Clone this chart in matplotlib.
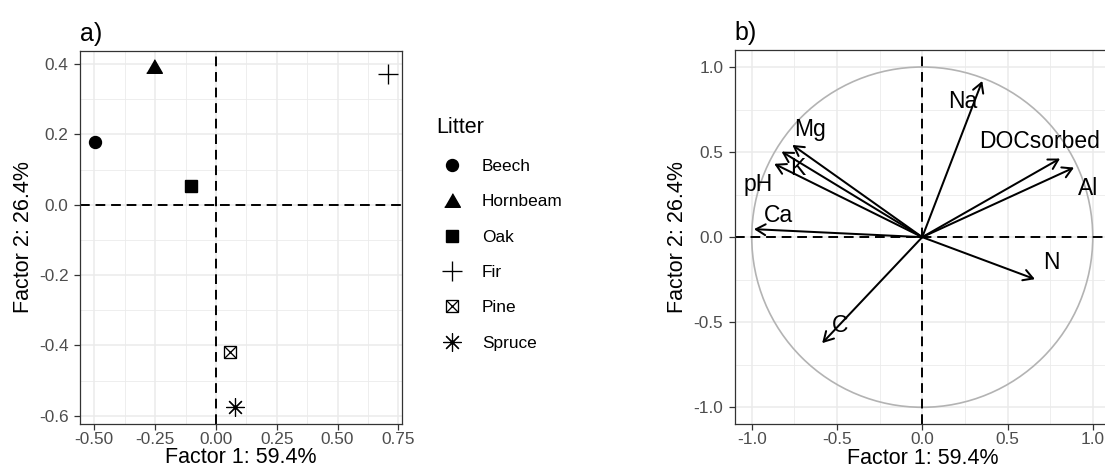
#----------------------------------------------------------------------
# Factor analysis of litter leachates: scores (a) and loadings (b)
#----------------------------------------------------------------------

import matplotlib

matplotlib.use('Agg')

import matplotlib.pyplot as plt
from matplotlib.lines import Line2D
from matplotlib.patches import Circle
from matplotlib.legend_handler import HandlerTuple
import numpy as np

plt.rcParams['font.family'] = ['Liberation Sans', 'DejaVu Sans']
plt.rcParams['axes.unicode_minus'] = False

# factor scores per litter type
litter = ['Beech', 'Hornbeam', 'Oak', 'Fir', 'Pine', 'Spruce']
score1 = [-0.497, -0.253, -0.103, 0.707, 0.058, 0.079]
score2 = [0.178, 0.395, 0.054, 0.371, -0.420, -0.576]

# variable loadings and where their names sit
variables = ['Na', 'Mg', 'K', 'pH', 'Ca', 'DOCsorbed', 'Al', 'N', 'C']
load1 = [0.352, -0.762, -0.825, -0.868, -0.987, 0.808, 0.890, 0.661, -0.587]
load2 = [0.918, 0.542, 0.503, 0.431, 0.047, 0.462, 0.409, -0.247, -0.623]
lab1 = [0.240, -0.659, -0.730, -0.965, -0.845, 0.686, 0.970, 0.759, -0.483]
lab2 = [0.797, 0.635, 0.405, 0.307, 0.125, 0.562, 0.288, -0.149, -0.521]

xlab = 'Factor 1: 59.4%'
ylab = 'Factor 2: 26.4%'

W, H = 1105., 475.
GRID = '#EBEBEB'
DARK = '#333333'
TICKC = '#4D4D4D'
DASH = (0, (5, 3))


def px_axes(fig, left, top, right, bottom):
    return fig.add_axes([left/W, 1 - bottom/H, (right-left)/W, (bottom-top)/H])


def style_axes(ax, xticks, yticks, xminor, yminor, xfmt, yfmt):
    ax.set_xticks(xticks)
    ax.set_yticks(yticks)
    ax.set_xticklabels([xfmt.format(v) for v in xticks])
    ax.set_yticklabels([yfmt.format(v) for v in yticks])
    for v in xminor:
        ax.axvline(v, color=GRID, lw=0.6, zorder=0)
    for v in yminor:
        ax.axhline(v, color=GRID, lw=0.6, zorder=0)
    for v in xticks:
        ax.axvline(v, color=GRID, lw=1.1, zorder=0)
    for v in yticks:
        ax.axhline(v, color=GRID, lw=1.1, zorder=0)
    ax.tick_params(length=4.3, width=0.9, color=DARK, labelcolor=TICKC,
                   labelsize=12.4)
    ax.tick_params(axis='x', pad=1.3)
    ax.tick_params(axis='y', pad=4.0)
    for sp in ax.spines.values():
        sp.set_color(DARK)
        sp.set_linewidth(0.9)
    ax.axhline(0, color='black', lw=1.4, ls=DASH, zorder=2)
    ax.axvline(0, color='black', lw=1.4, ls=DASH, zorder=2)
    ax.set_xlabel(xlab, fontsize=15.5, labelpad=0.5)
    ax.set_ylabel(ylab, fontsize=15.5, labelpad=3.8)


fig = plt.figure(figsize=(W/100, H/100), dpi=100)

# ---- a) scores
ax1 = px_axes(fig, 80, 51, 402, 424)
ax1.set_xlim(-0.5588, 0.7652)
ax1.set_ylim(-0.6236, 0.437)
style_axes(ax1, np.arange(-0.5, 0.76, 0.25), np.arange(-0.6, 0.41, 0.2),
           np.arange(-0.375, 0.7, 0.25), np.arange(-0.5, 0.4, 0.2),
           '{:.2f}', '{:.1f}')

tri = [(-1, -0.866), (1, -0.866), (0, 0.866)]
styles = {
    'Beech': [dict(marker='o', ms=8.6)],
    'Hornbeam': [dict(marker=tri, ms=11.3)],
    'Oak': [dict(marker='s', ms=9.0)],
    'Fir': [dict(marker='+', ms=13.9, mew=0.95)],
    'Pine': [dict(marker='s', ms=9.1, mfc='none', mew=0.95),
             dict(marker='x', ms=9.1, mew=0.95)],
    'Spruce': [dict(marker=(8, 2, 0), ms=13.0, mew=0.85)],
}

handles = []
for name, x, y in zip(litter, score1, score2):
    parts = []
    for st in styles[name]:
        kw = dict(color='black', mec='black', ls='none')
        kw.update(st)
        ax1.plot([x], [y], zorder=3, **kw)
        parts.append(Line2D([], [], **kw))
    handles.append(tuple(parts) if len(parts) > 1 else parts[0])

ax1.set_title('a)', loc='left', fontsize=18, pad=7)

leg = fig.legend(handles, litter, title='Litter', loc='upper left',
                 bbox_to_anchor=(436/W, 1 - 117/H), frameon=False,
                 fontsize=12.4, title_fontsize=15.5, alignment='left',
                 handlelength=1.86, handletextpad=0.8, labelspacing=1.18,
                 borderpad=0, borderaxespad=0,
                 handler_map={tuple: HandlerTuple(ndivide=1, pad=0)})
leg._legend_box.sep = 15

# ---- b) loadings
ax2 = px_axes(fig, 734.7, 50, 734.7 + 375.1, 424.3)
ax2.set_xlim(-1.1, 1.1)
ax2.set_ylim(-1.1, 1.1)
style_axes(ax2, np.arange(-1.0, 1.01, 0.5), np.arange(-1.0, 1.01, 0.5),
           np.arange(-0.75, 1.0, 0.5), np.arange(-0.75, 1.0, 0.5),
           '{:.1f}', '{:.1f}')
ax2.add_patch(Circle((0, 0), 1, fill=False, ec='#B3B3B3', lw=1.2, zorder=1))

for name, x, y, tx, ty in zip(variables, load1, load2, lab1, lab2):
    ax2.annotate('', xy=(x, y), xytext=(0, 0), zorder=3,
                 arrowprops=dict(arrowstyle='->,head_length=0.68,head_width=0.39',
                                 lw=1.45, color='black', shrinkA=0, shrinkB=0))
    ax2.text(tx, ty, name, fontsize=16.5, ha='center', va='center', zorder=4)

ax2.set_title('b)', loc='left', fontsize=18, pad=7)

fig.savefig('out.png', dpi=100)
